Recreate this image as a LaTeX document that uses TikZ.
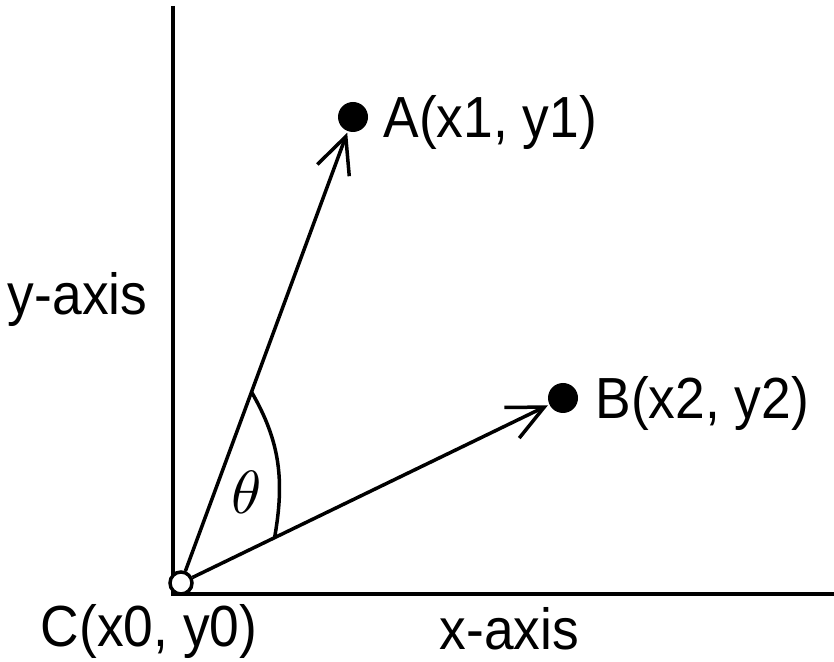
\documentclass[tikz,border=0pt]{standalone}
\usepackage{fontspec}
\newfontfamily\labelfont{Liberation Sans}[FakeStretch=0.92]
\usetikzlibrary{arrows.meta,calc,positioning}

\begin{document}
\begin{tikzpicture}[x=1pt,y=1pt,
  line width=3.5pt,
  node distance=15pt,
  lbl/.style={inner sep=0pt,text height=41.5pt,text depth=0pt,
    font={\labelfont\fontsize{58}{64}\selectfont}},
  dot/.style={circle,fill,inner sep=0pt,minimum size=30pt},
  origin/.style={circle,draw,fill=white,inner sep=0pt,minimum size=22pt},
  vec/.style={-{Straight Barb[length=36pt,width=34pt]}}
]
  \useasboundingbox (0,0) rectangle (834,661);
  \coordinate (O) at (173,67);
  \coordinate (ytop) at (173,655);
  \coordinate (xend) at (834,67);
  \draw (ytop) -- (O) -- (xend);
  \node[origin] (C) at (181,78) {};
  \node[dot] (A) at (353,544) {};
  \node[dot] (B) at (563,263) {};
  \draw[vec] (C) -- (A);
  \draw[vec] (C) -- (B);
  \coordinate (t1) at ($(C)!0.41!(A)$);
  \coordinate (t2) at ($(C)!0.245!(B)$);
  \draw (t1) to[out=-60,in=80] (t2);
  \node[scale=6.1,inner sep=0pt] (theta) at (247,169) {$\theta$};
  \node[lbl,right=12pt of A] (Alabel) {A(x1, y1)};
  \node[lbl,right=14pt of B] (Blabel) {B(x2, y2)};
  \node[lbl,below=7pt of C,xshift=-32pt] (Clabel) {C(x0, y0)};
  \node[lbl,anchor=east] (ylabel) at (149,367) {y-axis};
  \node[lbl,anchor=west] (xlabel) at (438,32) {x-axis};
\end{tikzpicture}
\end{document}
